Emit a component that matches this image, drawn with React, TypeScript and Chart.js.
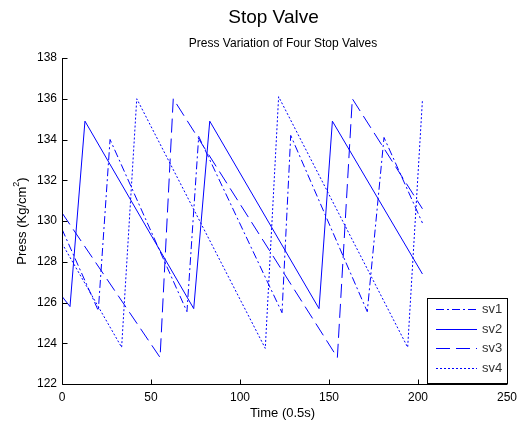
import React, { useEffect, useRef } from "react";
import { Chart, registerables } from "chart.js";

Chart.register(...registerables);

// ---------- data ----------
const sv1Time = [0, 20.4, 27.0, 70.2, 76.8, 123.6, 128.5, 171.5, 180.9, 202.5];
const sv1Press = [129.6, 125.6, 134.0, 125.55, 134.15, 125.5, 134.2, 125.55, 134.1, 129.9];

const sv2Time = [0, 4.5, 12.9, 74.0, 83.0, 144.4, 151.9, 202.5];
const sv2Press = [126.3, 125.8, 134.9, 125.7, 134.9, 125.7, 134.9, 127.4];

const sv3Time = [0, 55.1, 62.5, 154.7, 163.1, 202.5];
const sv3Press = [130.4, 123.3, 136.0, 123.3, 136.0, 130.6];

const sv4Time = [0, 33.5, 42.0, 114.2, 121.7, 194.2, 202.5];
const sv4Press = [128.9, 123.8, 136.0, 123.75, 136.1, 123.8, 135.95];

const seriesNames = ["sv1", "sv2", "sv3", "sv4"];
const xTicks = [0, 50, 100, 150, 200, 250];
const yTicks = [122, 124, 126, 128, 130, 132, 134, 136, 138];

const titleText = "Stop Valve";
const subtitleText = "Press Variation of Four Stop Valves";
const xLabel = "Time (0.5s)";

const FONT = '"Liberation Sans", Arial, Helvetica, sans-serif';
const BLUE = "#0000ff";
const dashes: number[][] = [[8, 3, 2, 3], [], [14, 6], [2, 2]];

const toPts = (xs: number[], ys: number[]) => xs.map((x, i) => ({ x, y: ys[i] }));

const decor = {
  id: "decor",
  afterDraw(chart: any) {
    const ctx = chart.ctx as CanvasRenderingContext2D;
    const { left, right, top, bottom } = chart.chartArea;
    const xs = chart.scales.x;
    const ys = chart.scales.y;
    const L = Math.round(left) + 0.5;
    const B = Math.round(bottom) + 0.5;
    ctx.save();
    ctx.strokeStyle = "#000";
    ctx.lineWidth = 1;
    ctx.setLineDash([]);
    ctx.beginPath();
    ctx.moveTo(L, top);
    ctx.lineTo(L, B);
    ctx.lineTo(right, B);
    ctx.stroke();
    ctx.beginPath();
    yTicks.forEach((v) => {
      const py = Math.round(ys.getPixelForValue(v)) + 0.5;
      ctx.moveTo(L, py);
      ctx.lineTo(L + 5, py);
    });
    xTicks.forEach((v) => {
      const px = Math.round(xs.getPixelForValue(v)) + 0.5;
      ctx.moveTo(px, B);
      ctx.lineTo(px, B - 5);
    });
    ctx.stroke();

    // titles
    ctx.fillStyle = "#000";
    ctx.textAlign = "center";
    ctx.textBaseline = "middle";
    ctx.font = `19px ${FONT}`;
    ctx.fillText(titleText, 273.5, 18);
    ctx.font = `12px ${FONT}`;
    ctx.fillText(subtitleText, 283, 44);

    // x label
    ctx.font = `13px ${FONT}`;
    ctx.fillText(xLabel, 282.5, 413);

    // y label with superscript
    ctx.save();
    ctx.translate(22, (top + bottom) / 2);
    ctx.rotate(-Math.PI / 2);
    const p1 = "Press (Kg/cm";
    const p2 = "2";
    const p3 = ")";
    ctx.font = `13px ${FONT}`;
    const w1 = ctx.measureText(p1).width;
    const w3 = ctx.measureText(p3).width;
    ctx.font = `9px ${FONT}`;
    const w2 = ctx.measureText(p2).width;
    const tot = w1 + w2 + w3;
    let cx = -tot / 2;
    ctx.textAlign = "left";
    ctx.font = `13px ${FONT}`;
    ctx.fillText(p1, cx, 0);
    cx += w1;
    ctx.font = `9px ${FONT}`;
    ctx.fillText(p2, cx, -5);
    cx += w2;
    ctx.font = `13px ${FONT}`;
    ctx.fillText(p3, cx, 0);
    ctx.restore();

    // legend
    const lx = 427.5, ly = 298.5, lw = 80, lh = 85;
    ctx.fillStyle = "#fff";
    ctx.fillRect(lx, ly, lw, lh);
    ctx.strokeStyle = "#000";
    ctx.strokeRect(lx, ly, lw, lh);
    const rows = [309.5, 329.5, 348.5, 368.5];
    ctx.font = `13px ${FONT}`;
    ctx.textAlign = "left";
    ctx.textBaseline = "middle";
    seriesNames.forEach((n, i) => {
      ctx.strokeStyle = BLUE;
      ctx.setLineDash(dashes[i]);
      ctx.beginPath();
      ctx.moveTo(436, rows[i]);
      ctx.lineTo(477, rows[i]);
      ctx.stroke();
      ctx.setLineDash([]);
      ctx.fillStyle = "#333";
      ctx.fillText(n, 482, rows[i]);
    });
    ctx.restore();
  },
};

export default function App() {
  const ref = useRef<HTMLCanvasElement | null>(null);
  useEffect(() => {
    if (!ref.current) return;
    const mk = (i: number, xs: number[], ys: number[]) => ({
      label: seriesNames[i],
      data: toPts(xs, ys),
      borderColor: BLUE,
      backgroundColor: BLUE,
      borderWidth: 1,
      borderDash: dashes[i],
      pointRadius: 0,
      tension: 0,
      fill: false,
    });
    const chart = new Chart(ref.current, {
      type: "line",
      data: {
        datasets: [
          mk(0, sv1Time, sv1Press),
          mk(1, sv2Time, sv2Press),
          mk(2, sv3Time, sv3Press),
          mk(3, sv4Time, sv4Press),
        ],
      },
      options: {
        responsive: false,
        animation: false,
        devicePixelRatio: 1,
        layout: { padding: { top: 58, right: 22, left: 0, bottom: 0 } },
        plugins: { legend: { display: false }, title: { display: false }, tooltip: { enabled: false } },
        scales: {
          x: {
            type: "linear",
            min: 0,
            max: 250,
            afterFit: (s: any) => { s.height = 38; },
            afterBuildTicks: (s: any) => { s.ticks = xTicks.map((v) => ({ value: v })); },
            grid: { display: false, drawTicks: false },
            border: { display: false },
            ticks: { color: "#000", padding: 6, font: { family: FONT, size: 12 }, maxRotation: 0 },
          },
          y: {
            type: "linear",
            min: 122,
            max: 138,
            afterFit: (s: any) => { s.width = 62; },
            afterBuildTicks: (s: any) => { s.ticks = yTicks.map((v) => ({ value: v })); },
            grid: { display: false, drawTicks: false },
            border: { display: false },
            ticks: { color: "#000", padding: 5, font: { family: FONT, size: 12 } },
          },
        },
      },
      plugins: [decor],
    });
    return () => chart.destroy();
  }, []);
  return (
    <div style={{ position: "fixed", left: 0, top: 0, width: 529, height: 422, background: "#fff" }}>
      <canvas ref={ref} width={529} height={422} style={{ width: 529, height: 422 }} />
    </div>
  );
}
